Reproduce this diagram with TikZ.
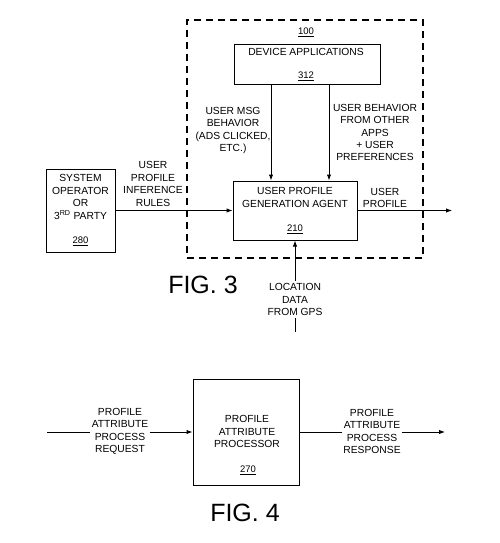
\documentclass[tikz,border=0pt]{standalone}
\usepackage{fontspec}
\setmainfont{Liberation Sans}
\usetikzlibrary{arrows.meta}
\begin{document}
\begin{tikzpicture}[x=1pt,y=-1pt,
  box/.style={draw,line width=1pt,rectangle,inner sep=0pt},
  arr/.style={line width=1pt,-{Latex[length=6pt,width=4.5pt]}},
  lbl/.style={align=center,inner sep=0pt,font=\fontsize{10.3}{12.4}\selectfont},
  num/.style={inner sep=0pt,font=\fontsize{9.5}{11}\selectfont},
  cut/.style={lbl,fill=white,inner sep=2pt},
  fig/.style={inner sep=0pt,font=\fontsize{25}{28}\selectfont}]
\useasboundingbox (0,0) rectangle (500,543);
% FIG. 3
\node[draw,line width=1.8pt,dash pattern=on 7pt off 5pt,minimum width=236pt,minimum height=238pt,inner sep=0pt] (frame) at (305,139) {};
\node[box,minimum width=146pt,minimum height=40pt] (dev) at (307,64.5) {};
\node[box,minimum width=124pt,minimum height=59pt] (upga) at (295,210.5) {};
\node[box,minimum width=69pt,minimum height=83pt] (sys) at (80.5,210.5) {};
\node[num] (n100) at (306,32) {\underline{100}};
\node[lbl] (devt) at (306,52) {DEVICE APPLICATIONS};
\node[num] (n312) at (306,76.5) {\underline{312}};
\node[lbl] (upgat) at (295,197.5) {USER PROFILE\\GENERATION AGENT};
\node[num] (n210) at (295,229) {\underline{210}};
\node[lbl] (syst) at (80.5,197) {SYSTEM\\OPERATOR\\OR\\3\textsuperscript{RD} PARTY};
\node[num] (n280) at (80.5,241) {\underline{280}};
\draw[arr] (271,0 |- dev.south) -- (271,0 |- upga.north);
\draw[arr] (329,0 |- dev.south) -- (329,0 |- upga.north);
\node[lbl] (msg) at (233,130.5) {USER MSG\\BEHAVIOR\\(ADS CLICKED,\\ETC.)};
\node[lbl] (beh) at (375,132.5) {USER BEHAVIOR\\FROM OTHER\\APPS\\+ USER\\PREFERENCES};
\draw[arr] (sys.east) -- (upga.west);
\node[lbl] (rules) at (153,184) {USER\\PROFILE\\INFERENCE\\RULES};
\coordinate (outend) at (452,210.5);
\draw[arr] (upga.east) -- (outend);
\node[lbl] (prof) at (385,198) {USER\\PROFILE};
\coordinate (gps) at (295,332);
\draw[arr] (gps) -- (upga.south);
\node[cut] (gpst) at (295,299.5) {LOCATION\\DATA\\FROM GPS};
\node[fig] (fig3) at (203,285) {FIG. 3};
% FIG. 4
\node[box,minimum width=106pt,minimum height=106pt] (proc) at (246,432) {};
\node[lbl] (proct) at (247,431.5) {PROFILE\\ATTRIBUTE\\PROCESSOR};
\node[num] (n270) at (248,470) {\underline{270}};
\coordinate (reqstart) at (47,432);
\coordinate (resend) at (445,432);
\draw[arr] (reqstart) -- (proc.west);
\draw[arr] (proc.east) -- (resend);
\node[cut,inner xsep=1.5pt] (req) at (120,431.5) {PROFILE\\ATTRIBUTE\\PROCESS\\REQUEST};
\node[cut,inner xsep=1.5pt] (res) at (372,431.5) {PROFILE\\ATTRIBUTE\\PROCESS\\RESPONSE};
\node[fig] (fig4) at (245,513) {FIG. 4};
\end{tikzpicture}
\end{document}
